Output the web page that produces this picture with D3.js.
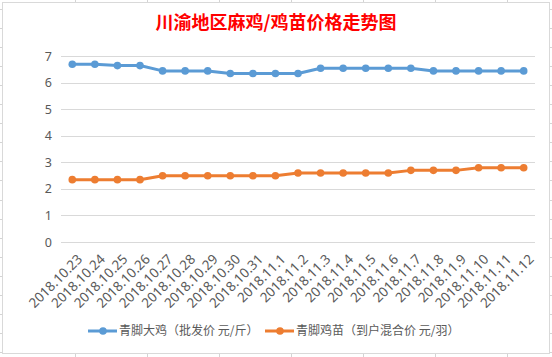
<!DOCTYPE html>
<html><head><meta charset="utf-8">
<script src="https://cdn.jsdelivr.net/npm/d3@7"></script>
<style>
html,body{margin:0;padding:0;background:#fff;}
svg{display:block;}
text{font-family:"Noto Sans","Noto Sans CJK SC",sans-serif;}
</style></head>
<body><svg id="c" width="552" height="357"></svg>
<script>
const titleText = "川渝地区麻鸡/鸡苗价格走势图";
const categories = ["2018.10.23","2018.10.24","2018.10.25","2018.10.26","2018.10.27","2018.10.28","2018.10.29","2018.10.30","2018.10.31","2018.11.1","2018.11.2","2018.11.3","2018.11.4","2018.11.5","2018.11.6","2018.11.7","2018.11.8","2018.11.9","2018.11.10","2018.11.11","2018.11.12"];
const seriesNames = ["青脚大鸡（批发价 元/斤）","青脚鸡苗（到户混合价 元/羽）"];
const bigChicken = [6.7,6.7,6.65,6.65,6.45,6.45,6.45,6.35,6.35,6.35,6.35,6.55,6.55,6.55,6.55,6.55,6.45,6.45,6.45,6.45,6.45];
const chickSeedling = [2.35,2.35,2.35,2.35,2.5,2.5,2.5,2.5,2.5,2.5,2.6,2.6,2.6,2.6,2.6,2.7,2.7,2.7,2.8,2.8,2.8];
const yTicks = [0,1,2,3,4,5,6,7];
const colors = ["#5B9BD5","#ED7D31"];

const svg = d3.select("#c");
const W = 552, H = 357;
svg.append("rect").attr("width",W).attr("height",H).attr("fill","#fff");

// decorative spreadsheet cells peeking outside the chart frame
const gridG = svg.append("g").attr("stroke","#d4d4d4").attr("stroke-width",1);
d3.range(74.5, W, 72.1).forEach(x=>{
  gridG.append("line").attr("x1",Math.round(x)+0.5).attr("x2",Math.round(x)+0.5).attr("y1",0).attr("y2",3);
  gridG.append("line").attr("x1",Math.round(x)+0.5).attr("x2",Math.round(x)+0.5).attr("y1",353).attr("y2",H);
});
d3.range(9, H, 19.05).forEach(y=>{
  gridG.append("line").attr("y1",Math.round(y)+0.5).attr("y2",Math.round(y)+0.5).attr("x1",0).attr("x2",3);
  gridG.append("line").attr("y1",Math.round(y)+0.5).attr("y2",Math.round(y)+0.5).attr("x1",549).attr("x2",W);
});
// chart frame
svg.append("rect").attr("x",2.5).attr("y",2.5).attr("width",547).attr("height",351)
  .attr("fill","#fff").attr("stroke","#d9d9d9").attr("stroke-width",1);

// title
svg.append("text").attr("x",276).attr("y",29).attr("text-anchor","middle")
  .attr("fill","#FF0000").attr("font-size","18px").attr("font-weight","bold")
  .style("font-family",'"Noto Sans CJK SC",sans-serif').text(titleText);

const x = d3.scaleBand().domain(categories).range([61,535]);
const y = d3.scaleLinear().domain([0,7]).range([242,56.3]);
const cx = d => x(d) + x.bandwidth()/2;

// gridlines
svg.append("g").selectAll("line").data(yTicks).join("line")
  .attr("x1",61).attr("x2",535)
  .attr("y1",d=>Math.round(y(d))+0.5).attr("y2",d=>Math.round(y(d))+0.5)
  .attr("stroke","#d9d9d9").attr("stroke-width",1);

// y axis labels
const yAxis = d3.axisLeft(y).tickValues(yTicks).tickFormat(d3.format("d")).tickSize(0).tickPadding(0);
const ya = svg.append("g").attr("transform","translate(52,0)").call(yAxis);
ya.select(".domain").remove();
ya.selectAll("text").attr("fill","#595959").attr("font-size","12.5px")
  .style("font-family",'"Noto Sans",sans-serif');

// x axis labels
const xAxis = d3.axisBottom(x).tickSize(0).tickPadding(0);
const xa = svg.append("g").attr("transform","translate(0,242)").call(xAxis);
xa.select(".domain").remove();
xa.selectAll("text").attr("fill","#595959").attr("font-size","13.5px")
  .style("font-family",'"Noto Sans",sans-serif')
  .attr("text-anchor","end").attr("dy",null).attr("y",null)
  .attr("transform","translate(11,18) rotate(-45)");

// series
const series = [bigChicken, chickSeedling];
series.forEach((vals,i)=>{
  const pts = categories.map((c,j)=>[cx(c), y(vals[j])]);
  svg.append("path").attr("d",d3.line()(pts)).attr("fill","none")
    .attr("stroke",colors[i]).attr("stroke-width",3).attr("stroke-linejoin","round").attr("stroke-linecap","round");
  svg.append("g").selectAll("circle").data(pts).join("circle")
    .attr("cx",d=>d[0]).attr("cy",d=>d[1]).attr("r",3.8).attr("fill",colors[i]);
});

// legend
const legendX = [88,265];
const ly = 331;
series.forEach((vals,i)=>{
  const g = svg.append("g").attr("transform",`translate(${legendX[i]},${ly})`);
  g.append("line").attr("x1",0).attr("x2",29).attr("y1",0).attr("y2",0)
    .attr("stroke",colors[i]).attr("stroke-width",3);
  g.append("circle").attr("cx",15).attr("cy",0).attr("r",3.8).attr("fill",colors[i]);
  g.append("text").attr("x",31).attr("y",0).attr("dy","0.35em")
    .attr("fill","#595959").attr("font-size","12px")
    .style("font-family",'"Noto Sans CJK SC",sans-serif').text(seriesNames[i]);
});
</script></body></html>
